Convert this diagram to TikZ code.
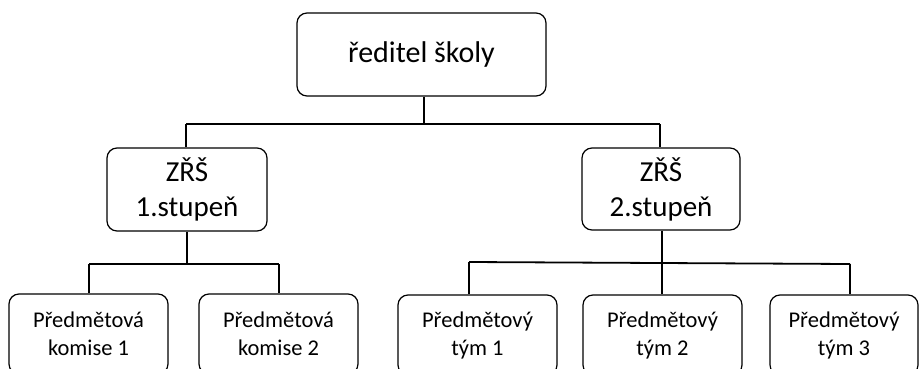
\documentclass[tikz,border=0pt]{standalone}
\usepackage{fontspec}
\setmainfont{Carlito}
\begin{document}
\begin{tikzpicture}[x=1pt,y=-1pt,
  box/.style={draw=black,line width=1.2pt,rounded corners=10pt,inner sep=0pt,align=center,fill=white},
  topbox/.style={box,minimum width=249pt,minimum height=83pt,font=\fontsize{30}{36}\selectfont},
  midbox/.style={box,minimum width=159pt,minimum height=83pt,font=\fontsize{29}{35}\selectfont},
  lowbox/.style={box,minimum width=159pt,minimum height=80pt,font=\fontsize{22.5}{28}\selectfont},
  conn/.style={draw=black,line width=1.8pt}]
\useasboundingbox (0,0) rectangle (920,369);
\clip (0,0) rectangle (920,369);
\node[topbox] (top) at (421.5,54.5) {ředitel školy};
\node[midbox,minimum width=160pt] (z1) at (187,189.5) {ZŘŠ\\1.stupeň};
\node[midbox,minimum width=158pt,minimum height=82pt] (z2) at (661,189) {ZŘŠ\\2.stupeň};
\node[lowbox] (k1) at (88.5,334) {Předmětová\\komise 1};
\node[lowbox] (k2) at (278.5,334) {Předmětová\\komise 2};
\node[lowbox] (t1) at (477.5,335) {Předmětový\\tým 1};
\node[lowbox] (t2) at (662.5,335) {Předmětový\\tým 2};
\node[lowbox,minimum width=148pt] (t3) at (844,335) {Předmětový\\tým 3};
% level 1 connectors
\coordinate (hL) at (186,124);
\coordinate (hR) at (660,124);
\draw[conn] (top.south -| 424,0) -- (424,124);
\draw[conn] (hL) -- (hR);
\draw[conn] (hL) -- (hL |- z1.north);
\draw[conn] (hR) -- (hR |- z2.north);
% ZRS 1 connectors
\coordinate (a1) at (89,264);
\coordinate (a2) at (279,264);
\draw[conn] (z1.south) -- (z1.south |- a1);
\draw[conn] (a1) -- (a2);
\draw[conn] (a1) -- (a1 |- k1.north);
\draw[conn] (a2) -- (a2 |- k2.north);
% ZRS 2 connectors
\coordinate (b1) at (469,262);
\coordinate (b3) at (850,264);
\draw[conn] (z2.south -| 662,0) -- (662,263);
\draw[conn] (b1) -- (b3);
\draw[conn] (b1) -- (b1 |- t1.north);
\draw[conn] (662,263) -- (662,0 |- t2.north);
\draw[conn] (b3) -- (b3 |- t3.north);
\end{tikzpicture}
\end{document}
